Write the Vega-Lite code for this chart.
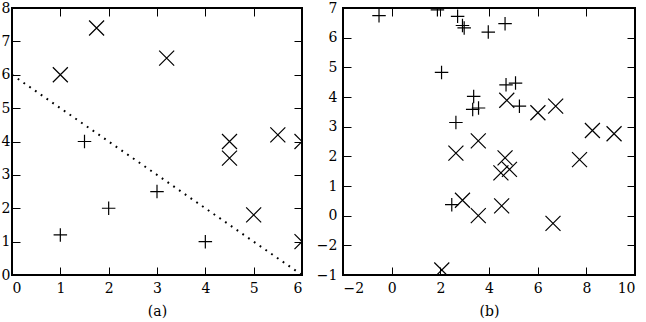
{
  "$schema": "https://vega.github.io/schema/vega-lite/v6.json",
  "background": "white",
  "padding": {"left": 0, "top": 0, "right": 4, "bottom": 0},
  "bounds": "flush",
  "spacing": 41,
  "config": {
    "view": {"stroke": "black", "strokeWidth": 2},
    "axis": {
      "domain": false, "grid": false,
      "labelFont": "DejaVu Serif", "labelFontSize": 14, "labelColor": "black",
      "tickColor": "black", "tickSize": -8, "tickWidth": 1,
      "labelPadding": 14,
      "titleFont": "DejaVu Serif", "titleFontSize": 14, "titleFontWeight": "normal", "titleColor": "black"
    }
  },
  "datasets": {
    "a_line": [{"x": 0, "y": 6}, {"x": 6, "y": 0}],
    "a_pts": [
      {"x": 1, "y": 1.2, "m": "plus"},
      {"x": 1.5, "y": 4, "m": "plus"},
      {"x": 2, "y": 2, "m": "plus"},
      {"x": 3, "y": 2.5, "m": "plus"},
      {"x": 4, "y": 1, "m": "plus"},
      {"x": 1, "y": 6, "m": "x"},
      {"x": 1.75, "y": 7.4, "m": "x"},
      {"x": 3.2, "y": 6.5, "m": "x"},
      {"x": 4.5, "y": 4, "m": "x"},
      {"x": 4.5, "y": 3.5, "m": "x"},
      {"x": 5, "y": 1.8, "m": "x"},
      {"x": 5.5, "y": 4.2, "m": "x"},
      {"x": 6, "y": 4, "m": "x"},
      {"x": 6, "y": 1, "m": "x"}
    ],
    "b_plus": [
      {"x": -0.52, "y": 6.74},
      {"x": 1.88, "y": 6.94},
      {"x": 2.71, "y": 6.72},
      {"x": 2.91, "y": 6.41},
      {"x": 2.98, "y": 6.33},
      {"x": 3.97, "y": 6.19},
      {"x": 4.66, "y": 6.47},
      {"x": 2.05, "y": 4.83},
      {"x": 3.37, "y": 4.02},
      {"x": 3.33, "y": 3.58},
      {"x": 3.57, "y": 3.63},
      {"x": 4.7, "y": 4.41},
      {"x": 5.09, "y": 4.47},
      {"x": 5.25, "y": 3.69},
      {"x": 2.64, "y": 3.14},
      {"x": 2.47, "y": 0.37}
    ],
    "b_x": [
      {"x": 4.73, "y": 3.89},
      {"x": 6.01, "y": 3.47},
      {"x": 6.74, "y": 3.69},
      {"x": 8.25, "y": 2.87},
      {"x": 9.14, "y": 2.76},
      {"x": 3.56, "y": 2.52},
      {"x": 2.64, "y": 2.11},
      {"x": 4.66, "y": 1.95},
      {"x": 7.72, "y": 1.89},
      {"x": 4.49, "y": 1.44},
      {"x": 4.84, "y": 1.56},
      {"x": 2.91, "y": 0.52},
      {"x": 3.56, "y": 0.0},
      {"x": 4.52, "y": 0.33},
      {"x": 6.63, "y": -0.26},
      {"x": 2.06, "y": -1.83}
    ]
  },
  "hconcat": [
    {
      "width": 290, "height": 267,
      "resolve": {"axis": {"x": "independent", "y": "independent"}},
      "layer": [
        {
          "data": {"name": "a_line"},
          "mark": {"type": "line", "color": "black", "strokeWidth": 2, "strokeDash": [1.8, 5.2]},
          "encoding": {
            "x": {"field": "x", "type": "quantitative", "scale": {"domain": [0, 6], "nice": false, "zero": false},
                  "axis": {"orient": "bottom", "values": [0, 1, 2, 3, 4, 5, 6], "title": "(a)", "titlePadding": 9}},
            "y": {"field": "y", "type": "quantitative", "scale": {"domain": [0, 8], "nice": false, "zero": false},
                  "axis": {"orient": "left", "values": [0, 1, 2, 3, 4, 5, 6, 7, 8], "title": null, "labelPadding": 10}}
          }
        },
        {
          "data": {"name": "a_pts"},
          "mark": {"type": "point", "clip": true, "filled": false, "color": "black", "strokeWidth": 1.2, "size": 225, "opacity": 1},
          "encoding": {
            "x": {"field": "x", "type": "quantitative",
                  "axis": {"orient": "top", "values": [0, 1, 2, 3, 4, 5, 6], "labels": false, "title": null}},
            "y": {"field": "y", "type": "quantitative",
                  "axis": {"orient": "right", "values": [0, 1, 2, 3, 4, 5, 6, 7, 8], "labels": false, "title": null}},
            "shape": {"field": "m", "type": "nominal", "legend": null,
                      "scale": {"domain": ["plus", "x"], "range": ["M-0.9,0L0.9,0M0,-0.9L0,0.9", "M-1,-1L1,1M-1,1L1,-1"]}}
          }
        }
      ]
    },
    {
      "width": 292, "height": 267,
      "resolve": {"axis": {"x": "independent", "y": "independent"}},
      "layer": [
        {
          "data": {"name": "b_plus"},
          "mark": {"type": "point", "clip": true, "filled": false, "color": "black", "strokeWidth": 1.2, "size": 225, "opacity": 1, "shape": "M-0.9,0L0.9,0M0,-0.9L0,0.9"},
          "encoding": {
            "x": {"field": "x", "type": "quantitative", "scale": {"domain": [-2, 10], "nice": false, "zero": false},
                  "axis": {"orient": "bottom", "values": [-2, 0, 2, 4, 6, 8, 10], "title": "(b)", "titlePadding": 9}},
            "y": {"field": "y", "type": "quantitative", "scale": {"domain": [-2, 7], "nice": false, "zero": false},
                  "axis": {"orient": "left", "values": [-2, -1, 0, 1, 2, 3, 4, 5, 6, 7], "title": null,
                           "labelExpr": "datum.value == -1 ? '−2' : (datum.value == -2 ? '−1' : datum.label)"}}
          }
        },
        {
          "data": {"name": "b_x"},
          "mark": {"type": "point", "clip": true, "filled": false, "color": "black", "strokeWidth": 1.2, "size": 225, "opacity": 1, "shape": "M-1,-1L1,1M-1,1L1,-1"},
          "encoding": {
            "x": {"field": "x", "type": "quantitative",
                  "axis": {"orient": "top", "values": [-2, 0, 2, 4, 6, 8, 10], "labels": false, "title": null}},
            "y": {"field": "y", "type": "quantitative",
                  "axis": {"orient": "right", "values": [-2, -1, 0, 1, 2, 3, 4, 5, 6, 7], "labels": false, "title": null}}
          }
        }
      ]
    }
  ]
}
